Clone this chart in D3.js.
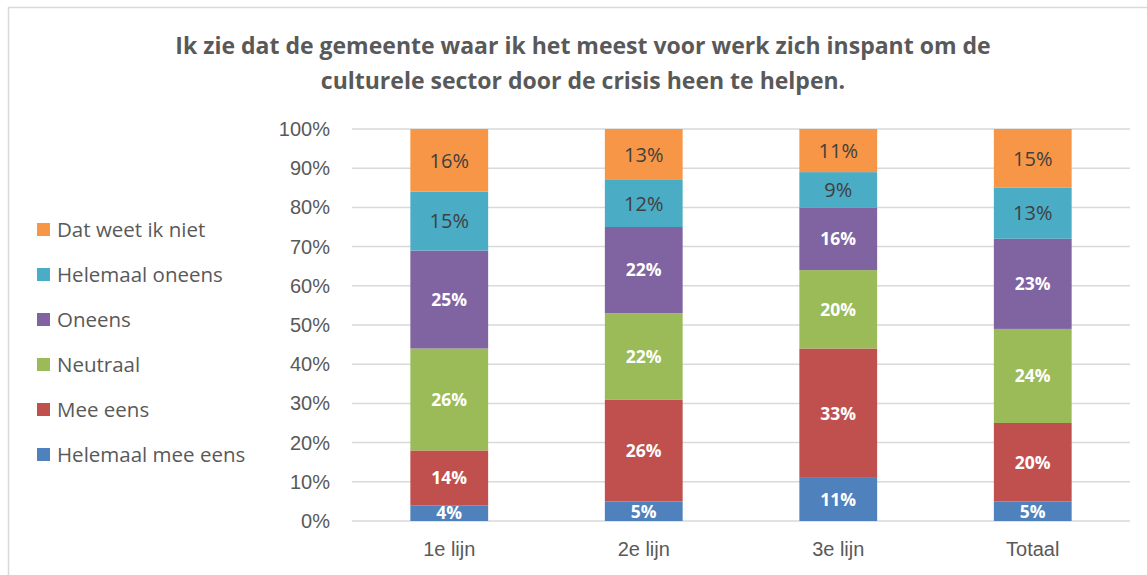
<!DOCTYPE html>
<html lang="nl">
<head>
    <meta charset="UTF-8">
    <title>Gemeente en culturele sector</title>
    <script src="https://d3js.org/d3.v7.min.js"></script>
    <style>
        body { margin: 0; background: #ffffff; }
        #canvas { display: block; font-family: "Open Sans", Lato, sans-serif; }
        .tick_label { fill: #595959; font-size: 20px; }
        .title { fill: #595959; font-size: 23px; font-weight: bold; }
        .legend_label { fill: #595959; font-size: 20.5px; }
        .grid { stroke: #d9d9d9; stroke-width: 1.5px; }
    </style>
</head>
<body>
<svg id="canvas" width="1147" height="575"></svg>
<script>
    // categories along the x axis
    let categories = ["1e lijn", "2e lijn", "3e lijn", "Totaal"]
    // series, bottom to top of each stack
    let series_names = ["Helemaal mee eens", "Mee eens", "Neutraal", "Oneens", "Helemaal oneens", "Dat weet ik niet"]
    let series_colors = ["#4f81bd", "#c0504d", "#9bbb59", "#8064a2", "#4bacc6", "#f79646"]
    // percentages per series, one value per category
    let helemaal_mee_eens = [4, 5, 11, 5]
    let mee_eens = [14, 26, 33, 20]
    let neutraal = [26, 22, 20, 24]
    let oneens = [25, 22, 16, 23]
    let helemaal_oneens = [15, 12, 9, 13]
    let weet_niet = [16, 13, 11, 15]
    let y_ticks = [0, 10, 20, 30, 40, 50, 60, 70, 80, 90, 100]
    let title_lines = ["Ik zie dat de gemeente waar ik het meest voor werk zich inspant om de",
        "culturele sector door de crisis heen te helpen."]

    let values = [helemaal_mee_eens, mee_eens, neutraal, oneens, helemaal_oneens, weet_niet]
    let rows = categories.map(function (c, i) {
        let row = {cat: c}
        series_names.forEach(function (s, j) { row[s] = values[j][i] })
        return row
    })
    let stacked = d3.stack().keys(series_names)(rows)

    let svg = d3.select('#canvas')
    let plot = {left: 352, right: 1130, top: 129, bottom: 521}

    // chart frame
    svg.append('rect')
        .attr('x', 8.5).attr('y', 7.5)
        .attr('width', 1200).attr('height', 600)
        .attr('fill', 'none').attr('stroke', '#d9d9d9').attr('stroke-width', 1.5)

    svg.selectAll('text.title')
        .data(title_lines)
        .enter()
        .append('text')
        .attr('class', 'title')
        .attr('x', 583)
        .attr('y', function (d, i) { return 54 + i * 35 })
        .attr('text-anchor', 'middle')
        .text(function (d) { return d })

    let xScale = d3.scaleBand().domain(categories)
        .range([plot.left, plot.right]).paddingInner(0.6).paddingOuter(0.3)
    let yScale = d3.scaleLinear().domain([0, 100]).range([plot.bottom, plot.top])

    // gridlines
    svg.append('g').selectAll('line')
        .data(y_ticks)
        .enter()
        .append('line')
        .attr('class', 'grid')
        .attr('x1', plot.left).attr('x2', plot.right)
        .attr('y1', function (d) { return yScale(d) })
        .attr('y2', function (d) { return yScale(d) })

    let y_axis = d3.axisLeft(yScale).tickValues(y_ticks).tickSize(0).tickPadding(0)
        .tickFormat(function (d) { return d + '%' })
    let yg = svg.append('g').attr('transform', `translate(${330},0)`).call(y_axis)
    yg.select('.domain').remove()
    yg.selectAll('text').attr('class', 'tick_label').attr('font-family', null).attr('font-size', null)

    let x_axis = d3.axisBottom(xScale).tickSize(0).tickPadding(0)
    let xg = svg.append('g').attr('transform', `translate(0,${plot.bottom + 21})`).call(x_axis)
    xg.select('.domain').remove()
    xg.selectAll('text').attr('class', 'tick_label').attr('font-family', null).attr('font-size', null)

    // stacked bars
    let layers = svg.append('g').selectAll('g')
        .data(stacked)
        .enter()
        .append('g')
        .attr('fill', function (d, i) { return series_colors[i] })
    layers.selectAll('rect')
        .data(function (d) { return d })
        .enter()
        .append('rect')
        .attr('x', function (d) { return xScale(d.data.cat) })
        .attr('width', xScale.bandwidth())
        .attr('y', function (d) { return yScale(d[1]) })
        .attr('height', function (d) { return yScale(d[0]) - yScale(d[1]) })

    // value labels
    layers.selectAll('text')
        .data(function (d, i) { return d.map(function (v) { return {v: v, s: i} }) })
        .enter()
        .append('text')
        .attr('x', function (d) { return xScale(d.v.data.cat) + xScale.bandwidth() / 2 })
        .attr('y', function (d) { return (yScale(d.v[0]) + yScale(d.v[1])) / 2 })
        .attr('dy', '0.36em')
        .attr('text-anchor', 'middle')
        .style('font-size', function (d) { return d.s < 4 ? '17.5px' : '20px' })
        .style('font-weight', function (d) { return d.s < 4 ? 'bold' : 'normal' })
        .style('fill', function (d) { return d.s < 4 ? '#ffffff' : '#404040' })
        .text(function (d) { return (d.v[1] - d.v[0]) + '%' })

    // legend, top entry is the last series
    let legend = svg.append('g').selectAll('g')
        .data(series_names.slice().reverse())
        .enter()
        .append('g')
        .attr('transform', function (d, i) { return `translate(37,${229.5 + i * 45})` })
    legend.append('rect')
        .attr('x', 0).attr('y', -6.5).attr('width', 13).attr('height', 13)
        .attr('fill', function (d) { return series_colors[series_names.indexOf(d)] })
    legend.append('text')
        .attr('class', 'legend_label')
        .attr('x', 20).attr('dy', '0.36em')
        .text(function (d) { return d })
</script>
</body>
</html>
